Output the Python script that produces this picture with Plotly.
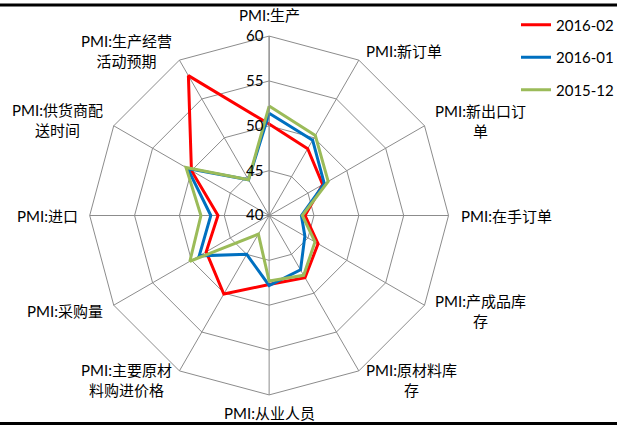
import math
import plotly.graph_objects as go

categories = [
    "PMI:生产", "PMI:新订单", "PMI:新出口订<br>单", "PMI:在手订单",
    "PMI:产成品库<br>存", "PMI:原材料库<br>存", "PMI:从业人员",
    "PMI:主要原材<br>料购进价格", "PMI:采购量", "PMI:进口",
    "PMI:供货商配<br>送时间", "PMI:生产经营<br>活动预期",
]
series_names = ["2016-02", "2016-01", "2015-12"]
values_2016_02 = [50.2, 48.6, 46.9, 44.0, 46.3, 48.0, 47.7, 50.1, 48.1, 45.7, 50.0, 58.0]
values_2016_01 = [51.4, 49.7, 47.1, 43.6, 44.6, 47.0, 47.8, 45.0, 49.0, 46.5, 50.5, 44.6]
values_2015_12 = [52.2, 50.3, 47.6, 43.7, 45.9, 47.7, 47.3, 42.4, 50.2, 47.6, 50.7, 44.6]
radial_ticks = [40, 45, 50, 55, 60]
colors = ["#FF0000", "#0070C0", "#9BBB59"]

W, H = 619, 425
FONT = "Lato, 'Noto Sans CJK SC', sans-serif"
CX, CY, R = 270, 215.5, 180  # polar centre and outer radius in pixels

fig = go.Figure()
for name, vals, col in zip(series_names, [values_2016_02, values_2016_01, values_2015_12], colors):
    fig.add_trace(go.Scatterpolar(
        r=vals + vals[:1], theta=categories + categories[:1],
        mode="lines", name=name, legendgroup=name,
        line=dict(color=col, width=3),
    ))

# category labels placed just outside the outer ring, centred multi-line text
annotations = []
n = len(categories)
for i, cat in enumerate(categories):
    a = math.radians(90 - 360 * i / n)
    ux, uy = math.cos(a), -math.sin(a)
    px, py = CX + R * ux, CY + R * uy
    if abs(ux) < 0.1:
        xa = "center"
        ya = "bottom" if uy < 0 else "top"
        lx, ly = px, py + (-10 if uy < 0 else 6)
    else:
        xa = "left" if ux > 0 else "right"
        ya = "middle"
        lx, ly = px + 10 * ux, py + 10 * uy
    annotations.append(dict(
        text=cat, x=lx / W, y=1 - ly / H, xref="paper", yref="paper",
        xanchor=xa, yanchor=ya, align="center", showarrow=False,
        font=dict(size=15, family=FONT, color="#000000"),
    ))

fig.update_layout(
    width=W, height=H,
    margin=dict(l=0, r=0, t=0, b=0),
    paper_bgcolor="white", plot_bgcolor="white",
    font=dict(family=FONT, size=15, color="#000000"),
    polar=dict(
        domain=dict(x=[(CX - R) / W, (CX + R) / W], y=[1 - (CY + R) / H, 1 - (CY - R) / H]),
        bgcolor="white",
        gridshape="linear",
        angularaxis=dict(
            type="category", direction="clockwise", rotation=90,
            categoryarray=categories, categoryorder="array",
            showline=True, linecolor="#8c8c8c", linewidth=1,
            gridcolor="#8c8c8c", gridwidth=1,
            ticks="", showticklabels=False,
        ),
        radialaxis=dict(
            range=[40, 60], tickvals=radial_ticks, angle=90, tickangle=90,
            side="counterclockwise",
            showline=True, linecolor="#8c8c8c", linewidth=1,
            gridcolor="#8c8c8c", gridwidth=1,
            ticks="", tickfont=dict(size=15, family=FONT),
        ),
    ),
    legend=dict(
        x=518 / W, y=1 - 8.5 / H, xanchor="left", yanchor="top",
        tracegroupgap=10, bgcolor="rgba(0,0,0,0)",
        font=dict(size=15, family=FONT),
    ),
    annotations=annotations,
    shapes=[
        dict(type="line", xref="paper", yref="paper", x0=0, x1=1,
             y0=1 - 5 / H, y1=1 - 5 / H, line=dict(color="black", width=3)),
        dict(type="line", xref="paper", yref="paper", x0=0, x1=1,
             y0=1 - 423.5 / H, y1=1 - 423.5 / H, line=dict(color="black", width=3)),
    ],
)

fig.write_html("out.html", config={"displayModeBar": False},
               post_script="document.body.style.margin='0';")
